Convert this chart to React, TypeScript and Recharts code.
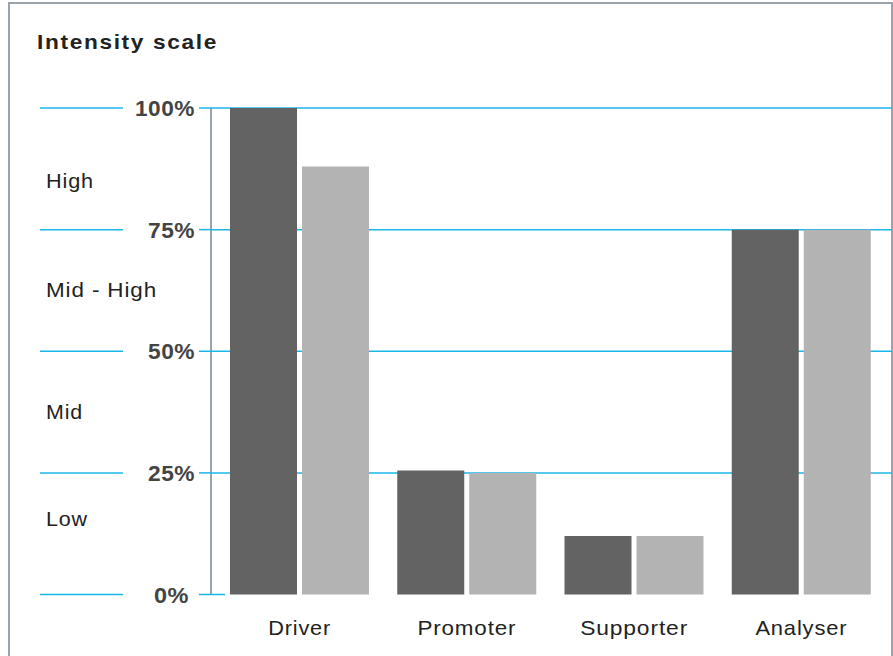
import React from 'react';
import { BarChart, Bar, XAxis, YAxis, CartesianGrid } from 'recharts';

const categories = ['Driver', 'Promoter', 'Supporter', 'Analyser'];
const seriesDark = [100, 25.5, 12, 75];
const seriesLight = [88, 25, 12, 75];
const percentTicks = [0, 25, 50, 75, 100];
const percentLabels = ['0%', '25%', '50%', '75%', '100%'];
const bandLabels = ['High', 'Mid - High', 'Mid', 'Low'];
const bandCenters = [85, 62.5, 37.5, 15.5];

const data = categories.map((name, i) => ({ name, dark: seriesDark[i], light: seriesLight[i] }));
const allTicks = [...percentTicks, ...bandCenters].sort((a, b) => a - b);

const FONT = '"Liberation Sans", Arial, Helvetica, sans-serif';
const CYAN = '#1bb6e8';
const FRAME = '#9aa3a9';

const labelWidths: Record<string, number> = {
  '0%': 35, '25%': 47, '50%': 47, '75%': 47, '100%': 60,
  'High': 48, 'Mid - High': 111, 'Mid': 37, 'Low': 42,
  'Driver': 63, 'Promoter': 99, 'Supporter': 108, 'Analyser': 92,
};

const YTick = (props: any) => {
  const { y, payload } = props;
  const v = payload.value;
  const pi = percentTicks.indexOf(v);
  if (pi >= 0) {
    const label = percentLabels[pi];
    const right = v === 0 ? 189 : 195;
    return (
      <g>
        <line x1={40} x2={123} y1={y} y2={y} stroke={CYAN} strokeWidth={1.5} />
        <line x1={199} x2={v === 0 ? 225 : 212} y1={y} y2={y} stroke={CYAN} strokeWidth={1.5} />
        <text x={right} y={y + 8} textAnchor="end" fontFamily={FONT} fontWeight="bold" fontSize={22}
          letterSpacing={0.5} fill="#444" textLength={labelWidths[label]} lengthAdjust="spacingAndGlyphs">{label}</text>
      </g>
    );
  }
  const bi = bandCenters.indexOf(v);
  const label = bandLabels[bi];
  return (
    <text x={46} y={y + 7} textAnchor="start" fontFamily={FONT} fontSize={20.5} fill="#222"
      letterSpacing={0.8} textLength={labelWidths[label]} lengthAdjust="spacingAndGlyphs">{label}</text>
  );
};

const XTick = (props: any) => {
  const { x, payload } = props;
  const label = payload.value;
  return (
    <text x={x} y={635} textAnchor="middle" fontFamily={FONT} fontSize={21} fill="#222"
      letterSpacing={0.8} textLength={labelWidths[label]} lengthAdjust="spacingAndGlyphs">{label}</text>
  );
};

export default function App() {
  return (
    <div style={{ position: 'absolute', left: 0, top: 0, width: 893, height: 656, overflow: 'hidden', background: '#fff' }}>
      <div style={{
        position: 'absolute', left: 8, top: 2, width: 885, height: 654, boxSizing: 'border-box',
        borderLeft: `2px solid ${FRAME}`, borderTop: `2px solid ${FRAME}`, borderRight: `2px solid ${FRAME}`,
      }} />
      <div style={{ position: 'absolute', left: 0, top: 0 }}>
        <BarChart width={893} height={656} data={data}
          margin={{ top: 108, right: 1, bottom: 31.5, left: 151 }}
          barSize={67} barGap={5}>
          <text x={37} y={49} fontFamily={FONT} fontWeight="bold" fontSize={20.5} fill="#222"
            letterSpacing={1.5} textLength={181} lengthAdjust="spacingAndGlyphs">Intensity scale</text>
          <CartesianGrid horizontal vertical={false} horizontalValues={[25, 50, 75, 100]}
            stroke={CYAN} strokeWidth={1.5} />
          <XAxis dataKey="name" axisLine={false} tickLine={false} height={30}
            padding={{ left: 5, right: 7 }} tick={<XTick />} interval={0} />
          <YAxis type="number" domain={[0, 100]} ticks={allTicks} width={60}
            axisLine={{ stroke: FRAME, strokeWidth: 2 }} tickLine={false} tick={<YTick />} interval={0} />
          <Bar dataKey="dark" fill="#636363" isAnimationActive={false} />
          <Bar dataKey="light" fill="#b3b3b3" isAnimationActive={false} />
        </BarChart>
      </div>
    </div>
  );
}
